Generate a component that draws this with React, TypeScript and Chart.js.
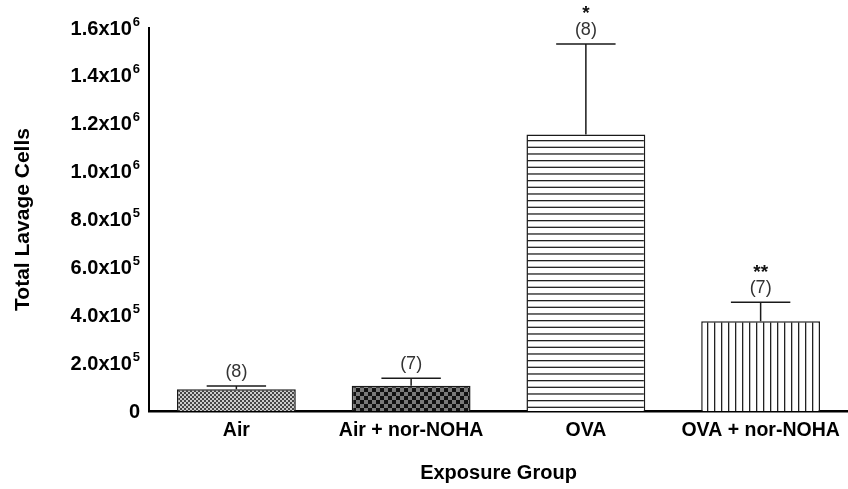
import React, { useEffect, useRef } from "react";
import { Chart, registerables } from "chart.js";

Chart.register(...registerables);

const categories = ["Air", "Air + nor-NOHA", "OVA", "OVA + nor-NOHA"];
const means = [91000, 106000, 1155000, 375000];
const upperErr = [104000, 137000, 1533000, 454000];
const nLabels = ["(8)", "(7)", "(8)", "(7)"];
const sigLabels = ["", "", "*", "**"];
const yTickValues = [0, 200000, 400000, 600000, 800000, 1000000, 1200000, 1400000, 1600000];
const yTickBases = ["0", "2.0x10", "4.0x10", "6.0x10", "8.0x10", "1.0x10", "1.2x10", "1.4x10", "1.6x10"];
const yTickExponents = ["", "5", "5", "5", "5", "6", "6", "6", "6"];

const FONT = "'Liberation Sans', Arial, sans-serif";

function makePattern(kind: number): CanvasPattern | string {
  const c = document.createElement("canvas");
  const ctx = c.getContext("2d");
  if (!ctx) return "#888";
  if (kind === 0) {
    c.width = 4; c.height = 4;
    ctx.fillStyle = "#cccccc"; ctx.fillRect(0, 0, 4, 4);
    ctx.fillStyle = "#454545";
    ctx.fillRect(0, 0, 2, 2); ctx.fillRect(2, 2, 2, 2);
  } else if (kind === 1) {
    c.width = 8; c.height = 8;
    ctx.fillStyle = "#7a7a7a"; ctx.fillRect(0, 0, 8, 8);
    ctx.fillStyle = "#111111";
    ctx.fillRect(0, 0, 4, 4); ctx.fillRect(4, 4, 4, 4);
  } else if (kind === 2) {
    c.width = 4; c.height = 20;
    ctx.fillStyle = "#ffffff"; ctx.fillRect(0, 0, 4, 20);
    ctx.fillStyle = "#222222";
    ctx.fillRect(0, 0, 4, 1.3); ctx.fillRect(0, 6.67, 4, 1.3); ctx.fillRect(0, 13.33, 4, 1.3);
  } else {
    c.width = 7; c.height = 4;
    ctx.fillStyle = "#ffffff"; ctx.fillRect(0, 0, 7, 4);
    ctx.fillStyle = "#222222";
    ctx.fillRect(0, 0, 1.3, 4);
  }
  return ctx.createPattern(c, "repeat") || "#888";
}

const yLabelPlugin = {
  id: "yTickLabelsWithExponent",
  afterDraw(chart: any) {
    const ctx = chart.ctx;
    const y = chart.scales.y;
    const right = y.right - 8 - 1;
    ctx.save();
    ctx.fillStyle = "#000";
    ctx.textBaseline = "middle";
    yTickValues.forEach((v, i) => {
      const py = y.getPixelForValue(v);
      let x = right;
      const exp = yTickExponents[i];
      if (exp) {
        ctx.font = `bold 13px ${FONT}`;
        ctx.textAlign = "right";
        ctx.fillText(exp, x, py - 6);
        x -= ctx.measureText(exp).width + 1;
      }
      ctx.font = `bold 20px ${FONT}`;
      ctx.textAlign = "right";
      ctx.fillText(yTickBases[i], x, py + 1);
    });
    ctx.restore();
  },
};

const errorPlugin = {
  id: "errorBarsAndLabels",
  afterDatasetsDraw(chart: any) {
    const ctx = chart.ctx;
    const meta = chart.getDatasetMeta(0);
    const y = chart.scales.y;
    ctx.save();
    meta.data.forEach((bar: any, i: number) => {
      const x = bar.x;
      const top = y.getPixelForValue(means[i]);
      const cap = y.getPixelForValue(upperErr[i]);
      const half = bar.width / 4;
      ctx.strokeStyle = "#1a1a1a";
      ctx.lineWidth = 1.5;
      ctx.beginPath();
      ctx.moveTo(x, top);
      ctx.lineTo(x, cap);
      ctx.moveTo(x - half, cap);
      ctx.lineTo(x + half, cap);
      ctx.stroke();
      ctx.fillStyle = "#333333";
      ctx.textAlign = "center";
      ctx.textBaseline = "middle";
      ctx.font = `18px ${FONT}`;
      ctx.fillText(nLabels[i], x, cap - 14);
      if (sigLabels[i]) {
        ctx.fillStyle = "#111111";
        ctx.font = `bold 19px ${FONT}`;
        ctx.fillText(sigLabels[i], x, cap - 30);
      }
    });
    ctx.restore();
  },
};

export default function App() {
  const ref = useRef<HTMLCanvasElement | null>(null);
  useEffect(() => {
    if (!ref.current) return;
    const patterns = [0, 1, 2, 3].map(makePattern);
    const chart = new Chart(ref.current, {
      type: "bar",
      data: {
        labels: categories,
        datasets: [
          {
            data: means,
            backgroundColor: patterns as any,
            borderColor: "#1a1a1a",
            borderWidth: 1.5,
            barPercentage: 0.68,
            categoryPercentage: 1,
          },
        ],
      },
      options: {
        animation: false,
        responsive: false,
        maintainAspectRatio: false,
        layout: { padding: { top: 28, right: 0, left: 0, bottom: 0 } },
        plugins: { legend: { display: false }, tooltip: { enabled: false } },
        scales: {
          x: {
            grid: { display: false, drawTicks: false },
            border: { display: true, color: "#000", width: 2.5 },
            ticks: {
              color: "#000",
              font: { family: FONT, size: 19.5, weight: "bold" },
              padding: 8,
            },
            title: {
              display: true,
              text: "Exposure Group",
              color: "#000",
              font: { family: FONT, size: 20, weight: "bold" },
              padding: { top: 0, bottom: 4 },
            },
            afterFit: (s: any) => { s.height = 78; },
          },
          y: {
            min: 0,
            max: 1600000,
            afterBuildTicks: (s: any) => { s.ticks = yTickValues.map((v) => ({ value: v })); },
            grid: { display: false, drawOnChartArea: false, drawTicks: true, tickLength: 8, tickWidth: 2, tickColor: "#000" },
            border: { display: true, color: "#000", width: 2 },
            ticks: { display: false },
            title: {
              display: true,
              text: "Total Lavage Cells",
              color: "#000",
              font: { family: FONT, size: 21, weight: "bold" },
              padding: { top: 11, bottom: 0 },
            },
            afterFit: (s: any) => { s.width = 149; },
          },
        },
      },
      plugins: [errorPlugin, yLabelPlugin],
    });
    return () => chart.destroy();
  }, []);
  return (
    <div style={{ position: "absolute", left: 0, top: 0, width: 848, height: 489, background: "#fff" }}>
      <canvas ref={ref} width={848} height={489} style={{ width: 848, height: 489 }} />
    </div>
  );
}
